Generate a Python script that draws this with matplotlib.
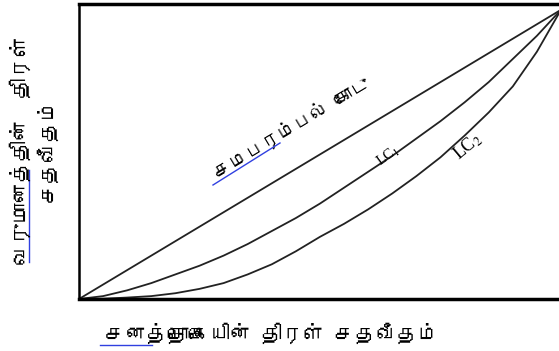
import numpy as np
import matplotlib
matplotlib.use("Agg")
import matplotlib.pyplot as plt
from matplotlib import font_manager
from matplotlib.ft2font import FT2Font
from matplotlib.lines import Line2D

# data (share of population vs share of income)
pop_share = [0.0, 0.05, 0.1, 0.15, 0.2, 0.25, 0.3, 0.35, 0.4, 0.45, 0.5,
             0.55, 0.6, 0.65, 0.7, 0.75, 0.8, 0.85, 0.9, 0.95, 1.0]
equal_line = list(pop_share)
lc1 = [0.0, 0.01, 0.03, 0.055, 0.085, 0.115, 0.15, 0.19, 0.235, 0.28, 0.33,
       0.385, 0.44, 0.495, 0.555, 0.615, 0.68, 0.75, 0.83, 0.91, 1.0]
lc2 = [0.0, 0.001, 0.005, 0.01, 0.02, 0.035, 0.055, 0.085, 0.12, 0.165, 0.215,
       0.26, 0.31, 0.365, 0.425, 0.49, 0.565, 0.645, 0.735, 0.855, 1.0]

equal_label = "சமபரம்பல் கோடு"
xlabel = "சனத்தொகையின் திரள் சதவீதம்"
ylabel_1 = "வருமானத்தின்  திரள்"
ylabel_2 = "சதவீதம்"


#find a font that can draw Tamil
def tamil_font():
    for f in font_manager.fontManager.ttflist:
        try:
            ft = FT2Font(f.fname)
            if ft.get_char_index(0x0BA4) and ft.get_char_index(0x0BCA):
                return f.name
        except Exception:
            pass
    return "DejaVu Sans"

tf = tamil_font()
fam = [tf, "DejaVu Sans"]

plt.rcParams['mathtext.fontset'] = 'stix'

W, H = 559, 351
fig = plt.figure(figsize=(W/100, H/100), dpi=100)
ax = fig.add_axes([79/W, 52/H, 482/W, 295/H])
ax.set_xlim(0, 1)
ax.set_ylim(0, 1.02)

ax.plot(pop_share, equal_line, color="#222222", lw=1.3)
ax.plot(pop_share, lc1, color="#222222", lw=1.3)
ax.plot(pop_share, lc2, color="#222222", lw=1.3)

for s in ax.spines.values():
    s.set_color("black")
ax.spines['top'].set_linewidth(2.5)
ax.spines['bottom'].set_linewidth(2.5)
ax.spines['left'].set_linewidth(1.8)
ax.set_xticks([])
ax.set_yticks([])

ax.text(0.44, 0.59, equal_label, rotation=31, ha="center", va="center",
        fontsize=13.5, family=fam, rotation_mode="anchor")
ax.text(0.641, 0.494, r"LC$_1$", rotation=36, ha="center", va="center",
        fontsize=10.5, family="Liberation Serif", rotation_mode="anchor")
ax.text(0.807, 0.526, r"LC$_2$", rotation=40, ha="center", va="center",
        fontsize=13, family="Liberation Serif", rotation_mode="anchor")

fig.text(272/W, 1 - 333/H, xlabel, ha="center", va="center",
         fontsize=15, family=fam)
fig.text(20/W, 1 - 150/H, ylabel_1, ha="center", va="center", rotation=90,
         fontsize=15, family=fam)
fig.text(47/W, 1 - 150/H, ylabel_2, ha="center", va="center", rotation=90,
         fontsize=15, family=fam)

# blue spell-check underlines seen in the source image
blue = "#3040e0"
for (x0, y0), (x1, y1) in [((100, 345), (152, 345)),
                           ((29, 170), (29, 262)),
                           ((213, 185), (280, 143))]:
    fig.add_artist(Line2D([x0/W, x1/W], [1 - y0/H, 1 - y1/H],
                          color=blue, lw=1.0, transform=fig.transFigure))

fig.savefig("out.png", dpi=100)
